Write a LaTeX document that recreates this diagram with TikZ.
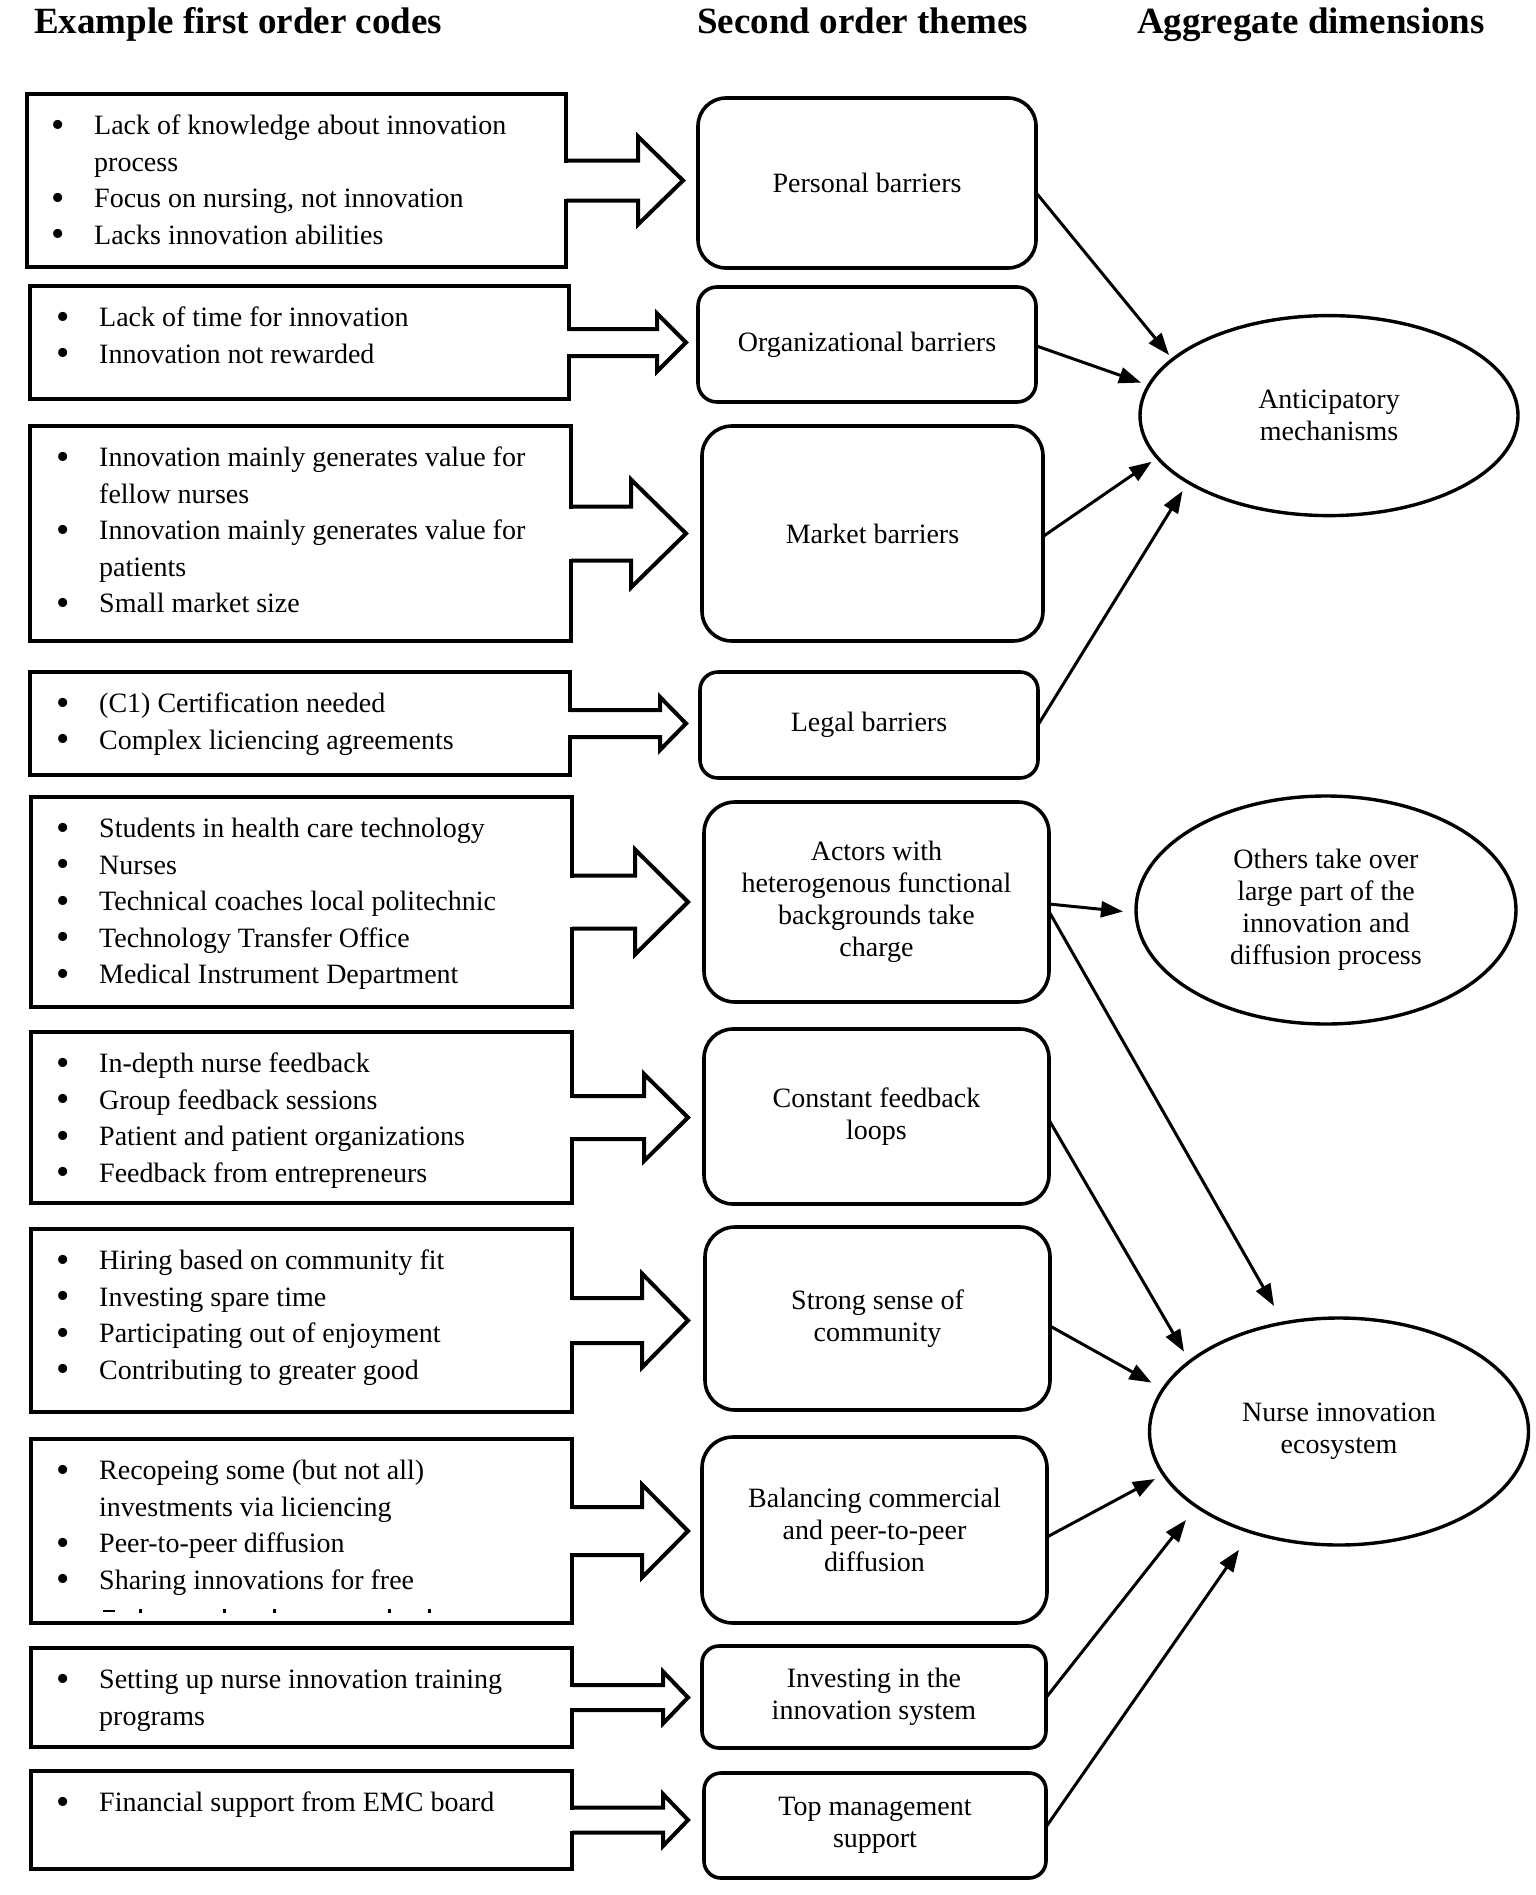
\documentclass[tikz,border=0pt]{standalone}
\usepackage{fontspec}
\setmainfont{Liberation Serif}
\usetikzlibrary{arrows.meta,shapes.geometric,calc}
\newcommand\bl{\makebox[43pt][l]{\raisebox{-2.5pt}{\fontsize{38}{36.5}\selectfont\textbullet}}}
\newcommand\blockarr[6]{%
  \coordinate (bs) at (#1.east);
  \coordinate (bt) at ($(#2.west |- #1.east)+(-#3,0)$);
  \fill[white] ($(bs)+(-3,{-#5+2})$) rectangle ($(bs)+(3,{#5-2})$);
  \draw[arrline] ($(bs)+(0,-#5)$) -- ($(bt)+(-#4,-#5)$) -- ($(bt)+(-#4,-#6)$) -- (bt) -- ($(bt)+(-#4,#6)$) -- ($(bt)+(-#4,#5)$) -- ($(bs)+(0,#5)$);
}
\tikzset{
  codebox/.style={draw, line width=4.2pt, inner sep=0pt, outer sep=0pt},
  codetext/.style={anchor=north west, inner sep=0pt, font=\fontsize{28}{36.5}\selectfont},
  themebox/.style={draw, line width=3.6pt, rounded corners=#1, inner sep=0pt, outer sep=0pt, align=center, font=\fontsize{28}{32}\selectfont},
  dimell/.style={draw, ellipse, line width=3.4pt, inner sep=0pt, outer sep=0pt, align=center, font=\fontsize{28}{32}\selectfont},
  conn/.style={line width=3pt, -{Triangle[length=22pt,width=16pt]}},
  arrline/.style={line width=4pt, line join=miter},
  title/.style={anchor=base west, inner sep=0pt, font=\fontsize{37}{44}\selectfont\bfseries},
}
\begin{document}
\begin{tikzpicture}[x=1pt,y=-1pt]
\useasboundingbox (0,0) rectangle (1535,1895);
\fill[white] (0,0) rectangle (1535,1895);

% titles
\node[title] (H1) at (34,33) {Example first order codes};
\node[title] (H2) at (697,33) {Second order themes};
\node[title] (H3) at (1137,33) {Aggregate dimensions};

% left boxes
\node[codebox, minimum width=539pt, minimum height=173pt] (L1) at (296.5,180.5) {};
\node[codebox, minimum width=539pt, minimum height=113pt] (L2) at (299.5,342.5) {};
\node[codebox, minimum width=541pt, minimum height=215pt] (L3) at (300.5,533.5) {};
\node[codebox, minimum width=540pt, minimum height=103pt] (L4) at (300,723.5) {};
\node[codebox, minimum width=541pt, minimum height=210pt] (L5) at (301.5,902) {};
\node[codebox, minimum width=541pt, minimum height=171pt] (L6) at (301.5,1117.5) {};
\node[codebox, minimum width=541pt, minimum height=183pt] (L7) at (301.5,1320.5) {};
\node[codebox, minimum width=541pt, minimum height=184pt] (L8) at (301.5,1531) {};
\node[codebox, minimum width=541pt, minimum height=99pt] (L9) at (301.5,1697.5) {};
\node[codebox, minimum width=541pt, minimum height=98pt] (L10) at (301.5,1820) {};

% left texts
\node[codetext] (T1) at (51,109) {\begin{tabular}{@{}l@{}l@{}}
\bl & Lack of knowledge about innovation\\
 & process\\
\bl & Focus on nursing, not innovation\\
\bl & Lacks innovation abilities
\end{tabular}};
\node[codetext] (T2) at (56,301) {\begin{tabular}{@{}l@{}l@{}}
\bl & Lack of time for innovation\\
\bl & Innovation not rewarded
\end{tabular}};
\node[codetext] (T3) at (56,441) {\begin{tabular}{@{}l@{}l@{}}
\bl & Innovation mainly generates value for\\
 & fellow nurses\\
\bl & Innovation mainly generates value for\\
 & patients\\
\bl & Small market size
\end{tabular}};
\node[codetext] (T4) at (56,687) {\begin{tabular}{@{}l@{}l@{}}
\bl & (C1) Certification needed\\
\bl & Complex liciencing agreements
\end{tabular}};
\node[codetext] (T5) at (56,812) {\begin{tabular}{@{}l@{}l@{}}
\bl & Students in health care technology\\
\bl & Nurses\\
\bl & Technical coaches local politechnic\\
\bl & Technology Transfer Office\\
\bl & Medical Instrument Department
\end{tabular}};
\node[codetext] (T6) at (56,1047) {\begin{tabular}{@{}l@{}l@{}}
\bl & In-depth nurse feedback\\
\bl & Group feedback sessions\\
\bl & Patient and patient organizations\\
\bl & Feedback from entrepreneurs
\end{tabular}};
\node[codetext] (T7) at (56,1244) {\begin{tabular}{@{}l@{}l@{}}
\bl & Hiring based on community fit\\
\bl & Investing spare time\\
\bl & Participating out of enjoyment\\
\bl & Contributing to greater good
\end{tabular}};
\node[codetext] (T8) at (56,1454) {\begin{tabular}{@{}l@{}l@{}}
\bl & Recopeing some (but not all)\\
 & investments via liciencing\\
\bl & Peer-to-peer diffusion\\
\bl & Sharing innovations for free
\end{tabular}};
\node[codetext] (T9) at (56,1663) {\begin{tabular}{@{}l@{}l@{}}
\bl & Setting up nurse innovation training\\
 & programs
\end{tabular}};
\node[codetext] (T10) at (56,1786) {\begin{tabular}{@{}l@{}l@{}}
\bl & Financial support from EMC board
\end{tabular}};
% remnants of a hidden line at the foot of box 8
\fill (103,1609.5) rectangle (115,1612);
\foreach \mx in {140,224,274,389,429} \fill (\mx-1.5,1609) rectangle (\mx+1.5,1613);

% middle boxes
\node[themebox=28pt, minimum width=338pt, minimum height=170pt] (M1) at (867,183) {Personal barriers};
\node[themebox=19pt, minimum width=338pt, minimum height=115pt] (M2) at (867,344.5) {Organizational barriers};
\node[themebox=30pt, minimum width=341pt, minimum height=215pt] (M3) at (872.5,533.5) {Market barriers};
\node[themebox=18pt, minimum width=338pt, minimum height=106pt] (M4) at (869,725) {Legal barriers};
\node[themebox=31pt, minimum width=345pt, minimum height=200pt] (M5) at (876.5,902) {Actors with\\heterogenous functional\\backgrounds take\\charge};
\node[themebox=29pt, minimum width=345pt, minimum height=175pt] (M6) at (876.5,1116.5) {Constant feedback\\loops};
\node[themebox=30pt, minimum width=345pt, minimum height=183pt] (M7) at (877.5,1318.5) {Strong sense of\\community};
\node[themebox=31pt, minimum width=345pt, minimum height=186pt] (M8) at (874.5,1530) {Balancing commercial\\and peer-to-peer\\diffusion};
\node[themebox=17pt, minimum width=344pt, minimum height=102pt] (M9) at (874,1697) {Investing in the\\innovation system};
\node[themebox=17pt, minimum width=342pt, minimum height=105pt] (M10) at (875,1825.5) {Top management\\support};

% block arrows
\blockarr{L1}{M1}{15}{45}{20}{44}
\blockarr{L2}{M2}{12}{29}{13.5}{29}
\blockarr{L3}{M3}{16}{55}{27}{54}
\blockarr{L4}{M4}{14}{26}{13.5}{26.5}
\blockarr{L5}{M5}{16}{53}{26.5}{52.5}
\blockarr{L6}{M6}{16}{44}{21.5}{43.5}
\blockarr{L7}{M7}{17}{46}{22.5}{47}
\blockarr{L8}{M8}{14}{46}{24}{46.5}
\blockarr{L9}{M9}{14}{25}{12.5}{26}
\blockarr{L10}{M10}{16}{25}{12.5}{26}

% aggregate dimensions
\node[dimell, minimum width=378pt, minimum height=200pt] (E1) at (1329,415.6) {Anticipatory\\mechanisms};
\node[dimell, minimum width=380pt, minimum height=228pt] (E2) at (1326,910) {Others take over\\large part of the\\innovation and\\diffusion process};
\node[dimell, minimum width=379pt, minimum height=227pt] (E3) at (1339,1431.5) {Nurse innovation\\ecosystem};

% connectors
\draw[conn] ($(M1.east)+(0,9.6)$) -- ($(E1.center)+(-160,-60.6)$);
\draw[conn] ($(M2.east)+(0,1.3)$) -- ($(E1.center)+(-188,-33)$);
\draw[conn] ($(M3.east)+(0,3)$) -- ($(E1.center)+(-177.5,46.2)$);
\draw[conn] ($(M4.east)+(0,0)$) -- ($(E1.center)+(-146.5,75.4)$);
\draw[conn] ($(M5.east)+(0,2)$) -- ($(E2.center)+(-203,1.5)$);
\draw[conn] ($(M5.east)+(0,9.5)$) -- ($(E3.center)+(-65,-125.5)$);
\draw[conn] ($(M6.east)+(0,3.5)$) -- ($(E3.center)+(-155,-79.8)$);
\draw[conn] ($(M7.east)+(0,7.5)$) -- ($(E3.center)+(-187.5,-48.9)$);
\draw[conn] ($(M8.east)+(0,7)$) -- ($(E3.center)+(-184,47.5)$);
\draw[conn] ($(M9.east)+(0,0.7)$) -- ($(E3.center)+(-153,88.5)$);
\draw[conn] ($(M10.east)+(0,1.5)$) -- ($(E3.center)+(-100,118.2)$);
\end{tikzpicture}
\end{document}
